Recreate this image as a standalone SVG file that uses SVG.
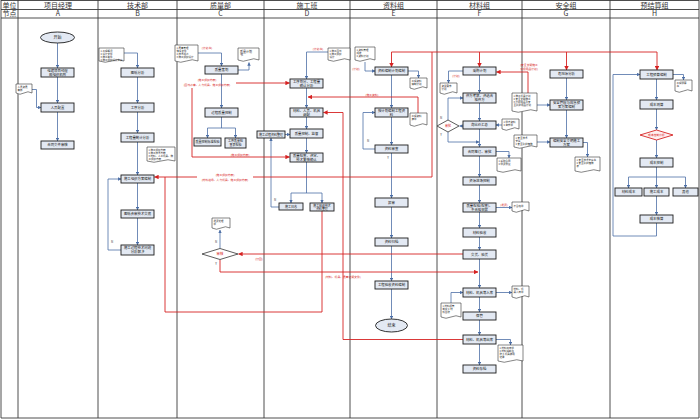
<svg xmlns="http://www.w3.org/2000/svg" width="700" height="419" viewBox="0 0 700 419">
<defs>
<style>
text{font-family:"Noto Sans CJK SC","Noto Sans",sans-serif}
.lane{stroke:#3a3a3a;stroke-width:0.9;fill:none}
.hd{font-size:7px;fill:#333;text-anchor:middle}
.box{fill:#e3e9f3;stroke:#1c1c1c;stroke-width:0.9}
.bt{font-size:3.4px;fill:#111;text-anchor:middle}
.doc{fill:#fff;stroke:#333;stroke-width:0.6}
.dt{font-size:2.5px;fill:#222}
.bl{stroke:#4d6fa6;stroke-width:0.8;fill:none}
.ba{marker-end:url(#ab)}
.rl{stroke:#d62222;stroke-width:0.9;fill:none}
.ra{marker-end:url(#ar)}
.rt{font-size:2.8px;fill:#d62222;text-anchor:middle}
.lb{font-size:3px;fill:#333;text-anchor:middle}
.dia{fill:#fff;stroke:#333;stroke-width:0.8}
</style>
<marker id="ab" viewBox="0 0 6 6" refX="5.5" refY="3" markerWidth="3.5" markerHeight="3.5" orient="auto" markerUnits="userSpaceOnUse"><path d="M0,0 L6,3 L0,6 z" fill="#4d6fa6"/></marker>
<marker id="ar" viewBox="0 0 6 6" refX="5.5" refY="3" markerWidth="4.5" markerHeight="4.5" orient="auto" markerUnits="userSpaceOnUse"><path d="M0,0 L6,3 L0,6 z" fill="#d62222"/></marker>
</defs>
<rect x="0" y="0" width="700" height="419" fill="#fff"/>

<g id="lanes">
<path class="lane" d="M1,0.5 H699 M1,9.5 H699 M1,18 H699 M1,418 H699 M1,0 V418 M18,0 V418 M98,0 V418 M177,0 V418 M264,0 V418 M350,0 V418 M437,0 V418 M522,0 V418 M610,0 V418 M699,0 V418"/>
<text class="hd" x="9.5" y="7.5">单位</text>
<text class="hd" x="9.5" y="16">节点</text>
<text class="hd" x="58" y="7.5">项目经理</text>
<text class="hd" x="137.5" y="7.5">技术部</text>
<text class="hd" x="220.5" y="7.5">质量部</text>
<text class="hd" x="307" y="7.5">施工班</text>
<text class="hd" x="393.5" y="7.5">资料组</text>
<text class="hd" x="479.5" y="7.5">材料组</text>
<text class="hd" x="566" y="7.5">安全组</text>
<text class="hd" x="654.5" y="7.5">预结算组</text>
<text class="hd" x="58" y="16">A</text>
<text class="hd" x="137.5" y="16">B</text>
<text class="hd" x="220.5" y="16">C</text>
<text class="hd" x="307" y="16">D</text>
<text class="hd" x="393.5" y="16">E</text>
<text class="hd" x="479.5" y="16">F</text>
<text class="hd" x="566" y="16">G</text>
<text class="hd" x="654.5" y="16">H</text>
</g>

<g id="connectors">
<path class="bl ba" d="M57.5,43 V68"/>
<path class="bl ba" d="M57.5,77 V103"/>
<path class="bl ba" d="M57.5,112 V141"/>
<path class="bl ba" d="M32,89.5 H36.5 V107.5 H41"/>
<path class="bl ba" d="M124,53 H137.5 V68"/>
<path class="bl ba" d="M137.5,77 V103"/>
<path class="bl ba" d="M137.5,112 V133"/>
<path class="bl ba" d="M137.5,142 V175"/>
<path class="bl ba" d="M137.5,183 V210"/>
<path class="bl ba" d="M137.5,218 V245"/>
<path class="bl ba" d="M121,250 H108 V179 H121"/>
<path class="bl ba" d="M198,53 H221.5 V66"/>
<path class="bl ba" d="M238,70 H249 V62.5"/>
<path class="bl ba" d="M221.5,74 V108"/>
<path class="bl" d="M221.5,117 V128 M207.5,128 H235.5"/>
<path class="bl ba" d="M207.5,128 V138"/>
<path class="bl ba" d="M235.5,128 V138"/>
<path class="bl ba" d="M220,248.5 V230"/>
<path class="bl ba" d="M328,52 H306.5 V79"/>
<path class="bl ba" d="M306.5,88 V108"/>
<path class="bl ba" d="M306.5,117 V129"/>
<path class="bl ba" d="M285,134.5 H290"/>
<path class="bl ba" d="M306.5,138 V153"/>
<path class="bl" d="M306.5,162 V193 M291,193 H322"/>
<path class="bl ba" d="M291,193 V203"/>
<path class="bl ba" d="M322,193 V203"/>
<path class="bl ba" d="M279,207 H271 V138"/>
<path class="bl ba" d="M365,62 V71 H375"/>
<path class="bl ba" d="M408,71 H418.5 V78"/>
<path class="bl ba" d="M391.5,75 V108"/>
<path class="bl ba" d="M391.5,117 V145"/>
<path class="bl ba" d="M375,149 H363 V112.5 H375"/>
<path class="bl ba" d="M391.5,153 V198"/>
<path class="bl ba" d="M391.5,207 V238"/>
<path class="bl ba" d="M391.5,246 V281"/>
<path class="bl ba" d="M391.5,289 V319"/>
<path class="bl ba" d="M463,71 H448.5 V83"/>
<path class="bl ba" d="M479.5,75 V93"/>
<path class="bl ba" d="M479.5,103 V121"/>
<path class="bl ba" d="M463,126 H459.5"/>
<path class="bl ba" d="M448,120 V98 H463"/>
<path class="bl ba" d="M448,132 V142 H479"/>
<path class="bl ba" d="M479.5,129 V147"/>
<path class="bl ba" d="M502,125 H496"/>
<path class="bl ba" d="M496,151.5 H509 V158"/>
<path class="bl ba" d="M479.5,156 V177"/>
<path class="bl ba" d="M479.5,185 V203"/>
<path class="bl ba" d="M496,207.5 H512"/>
<path class="bl ba" d="M479.5,212 V228"/>
<path class="bl ba" d="M479.5,237 V250"/>
<path class="bl ba" d="M479.5,259 V288"/>
<path class="bl ba" d="M496,292.5 H512"/>
<path class="bl ba" d="M451,303 V292.5 H463"/>
<path class="bl ba" d="M479.5,297 V312"/>
<path class="bl ba" d="M479.5,320 V335"/>
<path class="bl ba" d="M496,339.5 H510.5 V345"/>
<path class="bl ba" d="M479.5,344 V365"/>
<path class="bl ba" d="M566.5,78 V100"/>
<path class="bl ba" d="M566.5,110 V138"/>
<path class="bl ba" d="M537,105 H550"/>
<path class="bl ba" d="M537,142 H550"/>
<path class="bl ba" d="M583,142.5 H587.5 V157"/>
<path class="bl ba" d="M673,74.5 H683.5 V80"/>
<path class="bl ba" d="M656.5,79 V100"/>
<path class="bl ba" d="M656.5,109 V130"/>
<path class="bl ba" d="M656.5,140 V158"/>
<path class="bl" d="M656.5,167 V177 M628.5,177 H685.5"/>
<path class="bl ba" d="M628.5,177 V188"/>
<path class="bl ba" d="M656.5,177 V188"/>
<path class="bl ba" d="M685.5,177 V188"/>
<path class="bl ba" d="M656.5,196 V215"/>
<path class="bl ba" d="M656.5,223 V236 H613 V74.5 H640"/>

<path class="rl" d="M391.5,52 H657"/>
<path class="rl ra" d="M391.5,52 V67"/>
<path class="rl ra" d="M479.5,52 V67"/>
<path class="rl ra" d="M566.5,52 V70"/>
<path class="rl ra" d="M657,52 V70"/>
<path class="rl" d="M432,52 V177 H253"/>
<path class="rl ra" d="M197,177 H154.5"/>
<path class="rl" d="M165,177 V312 H322 V211"/>
<path class="rl ra" d="M192,88 V157 H289.5"/>
<path class="rl ra" d="M236,83 H289.5"/>
<path class="rl ra" d="M418,113 V97 H308"/>
<path class="rl ra" d="M463,339.5 H343 V112.5 H323.5"/>
<path class="rl ra" d="M463,254 H238.5"/>
<path class="rl ra" d="M220,259.5 V272 H478"/>
<path class="rl ra" d="M528,93 V72 H496.5"/>

<text class="rt" x="225" y="175.6">(施工组织方案)</text>
<text class="rt" x="225" y="180.6">(材料进场、人力机具、施工组织方案)</text>
<text class="rt" x="207" y="80.6">(施工组织方案)</text>
<text class="rt" x="207" y="85.6">(图纸会审、人力机具、施工组织方案)</text>
<text class="rt" x="240" y="155.5">(施工组织方案)</text>
<text class="rt" x="372" y="95.8">(施工资料)</text>
<text class="rt" x="259" y="259.5">(打回)</text>
<text class="rt" x="343" y="277.5">(材料、机具、质量证明文件)</text>
<text class="rt" x="207" y="48.5">(计划书)</text>
<text class="rt" x="318" y="49.5">(计划书)</text>
<text class="rt" x="356" y="69.5">(计划)</text>
<text class="rt" x="456" y="77">(计划)</text>
<text class="rt" x="504" y="205.5">(退货)</text>
<text class="rt" x="529" y="66">(安全文明施工</text>
<text class="rt" x="529" y="69.8">劳保用品计划)</text>
<text class="lb" x="112" y="243">N</text>
<text class="lb" x="216" y="243">N</text>
<text class="lb" x="216" y="265">Y</text>
<text class="lb" x="275" y="201">N</text>
<text class="lb" x="368" y="142">N</text>
<text class="lb" x="388" y="159">Y</text>
<text class="lb" x="441" y="119">N</text>
<text class="lb" x="441" y="136">Y</text>
</g>

<g id="a-start"><ellipse class="box" cx="57.5" cy="37.5" rx="17" ry="5.5"/><text class="bt" x="57.5" y="39" style="font-size:4px">开始</text></g>
<g id="a1"><rect class="box" x="41" y="68" width="33" height="9"/><text class="bt" x="57.5" y="71.9">组建项目经理</text><text class="bt" x="57.5" y="75.5">部组织机构</text></g>
<g id="a2"><rect class="box" x="41" y="103" width="33" height="9"/><text class="bt" x="57.5" y="108.7">人员配置</text></g>
<g id="a3"><rect class="box" x="41" y="141" width="33" height="8"/><text class="bt" x="57.5" y="146.2">合同文件审核</text></g>
<g id="a-doc"><path class="doc" d="M16,84 h16 v9 q-4,-2.5 -8,0 t-8,0 z"/><text class="dt" x="17.5" y="87.5">人员资质</text><text class="dt" x="17.5" y="90.5">审核</text></g>

<g id="b-doc"><path class="doc" d="M99,48 h25 v13 q-6.25,-2.5 -12.5,0 t-12.5,0 z"/><text class="dt" x="100.5" y="51.5">1.工程概况</text><text class="dt" x="100.5" y="54.5">2.设计文件</text><text class="dt" x="100.5" y="57.5">3.施工条件</text><text class="dt" x="100.5" y="60.5">4.施工组织设计交底</text></g>
<g id="b1"><rect class="box" x="121" y="68" width="33" height="9"/><text class="bt" x="137.5" y="73.7">图纸分析</text></g>
<g id="b2"><rect class="box" x="121" y="103" width="33" height="9"/><text class="bt" x="137.5" y="108.7">工序分析</text></g>
<g id="b3"><rect class="box" x="121" y="133" width="33" height="9"/><text class="bt" x="137.5" y="138.7">工程量统计分析</text></g>
<g id="b-doc2"><path class="doc" d="M147,147 h28 v14 q-7,-2.5 -14,0 t-14,0 z"/><text class="dt" x="148.5" y="150.5">1.施工组织方案</text><text class="dt" x="148.5" y="153.5">2.施工技术方案</text><text class="dt" x="148.5" y="156.5">3.材料、人工机具、施</text><text class="dt" x="148.5" y="159.5">工组织方案</text></g>
<g id="b4"><rect class="box" x="121" y="175" width="33" height="8"/><text class="bt" x="137.5" y="180.2">施工组织方案编制</text></g>
<g id="b5"><rect class="box" x="121" y="210" width="33" height="8"/><text class="bt" x="137.5" y="215.2">图纸会审技术交底</text></g>
<g id="b6"><rect class="box" x="121" y="245" width="33" height="10"/><text class="bt" x="137.5" y="249.3">施工过程技术问题</text><text class="bt" x="137.5" y="253">分析解决</text></g>

<g id="c-doc1"><path class="doc" d="M175,45 h23 v16 q-5.75,-2.5 -11.5,0 t-11.5,0 z"/><text class="dt" x="176.5" y="48.5">1.质量管理</text><text class="dt" x="176.5" y="51.5">体系文件</text><text class="dt" x="176.5" y="54.5">2.技术规范</text><text class="dt" x="176.5" y="57.5">3.施工组织设计</text></g>
<g id="c-doc2"><path class="doc" d="M238,48 h21 v12 q-5.25,-2.5 -10.5,0 t-10.5,0 z"/><text class="dt" x="240" y="52.5" style="font-size:3px">质量计划</text><text class="dt" x="240" y="56" style="font-size:3px">书</text></g>
<g id="c1"><rect class="box" x="205" y="66" width="33" height="8"/><text class="bt" x="221.5" y="71.2">质量策划</text></g>
<g id="c2"><rect class="box" x="205" y="108" width="33" height="9"/><text class="bt" x="221.5" y="113.7">过程质量控制</text></g>
<g id="c3"><rect class="box" x="194" y="138" width="27" height="8"/><text class="bt" x="207.5" y="143" style="font-size:3px">质量控制标准检验</text></g>
<g id="c4"><rect class="box" x="225" y="138" width="21" height="10"/><text class="bt" x="235.5" y="142.3" style="font-size:3px">工序质量检</text><text class="bt" x="235.5" y="146" style="font-size:3px">查表检验</text></g>
<g id="c-dia"><path class="dia" d="M202,254 L220,248.5 L238,254 L220,259.5 z"/><text class="bt" x="220" y="255.3" style="fill:#d62222">审核</text></g>
<g id="c-doc3"><path class="doc" d="M212,218 h18 v10 q-4.5,-2.5 -9,0 t-9,0 z"/><text class="dt" x="213.5" y="221.5">退货处理</text><text class="dt" x="213.5" y="224.5">单</text></g>

<g id="d-doc"><path class="doc" d="M328,48 h22 v12 q-5.5,-2.5 -11,0 t-11,0 z"/><text class="dt" x="329.5" y="51.5">1.施工图纸</text><text class="dt" x="329.5" y="54.5">2.施工组织</text><text class="dt" x="329.5" y="57.5">设计</text></g>
<g id="d1"><rect class="box" x="290" y="79" width="33" height="9"/><text class="bt" x="306.5" y="82.9">工序划分、工程量</text><text class="bt" x="306.5" y="86.5">确认分析</text></g>
<g id="d2"><rect class="box" x="290" y="108" width="33" height="9"/><text class="bt" x="306.5" y="111.9">材料、人员、机具</text><text class="bt" x="306.5" y="115.5">调配</text></g>
<g id="d3"><rect class="box" x="290" y="129" width="33" height="9"/><text class="bt" x="306.5" y="134.7">质量控制、监督</text></g>
<g id="d-left"><rect class="box" x="257" y="131" width="28" height="7"/><text class="bt" x="271" y="135.6" style="font-size:3px">施工过程资料整理</text></g>
<g id="d4"><rect class="box" x="290" y="153" width="33" height="9"/><text class="bt" x="306.5" y="156.9">质量检查、评定、</text><text class="bt" x="306.5" y="160.5">技术复核确认</text></g>
<g id="d5"><rect class="box" x="279" y="203" width="24" height="7"/><text class="bt" x="291" y="207.6" style="font-size:3px">施工日志</text></g>
<g id="d6"><rect class="box" x="310" y="203" width="24" height="8"/><text class="bt" x="322" y="206.5" style="font-size:2.9px">施工班组技术</text><text class="bt" x="322" y="209.8" style="font-size:2.9px">资料整理</text></g>

<g id="e-doc1"><path class="doc" d="M355,47 h20 v13 q-5,-2.5 -10,0 t-10,0 z"/><text class="dt" x="356.5" y="50.5">1.资料管理</text><text class="dt" x="356.5" y="53.5">规定</text><text class="dt" x="356.5" y="56.5">2.资料计划</text></g>
<g id="e1"><rect class="box" x="375" y="67" width="33" height="8"/><text class="bt" x="391.5" y="72.2">资料编制计划编制</text></g>
<g id="e-doc2"><path class="doc" d="M410,78 h17 v10 q-4.25,-2.5 -8.5,0 t-8.5,0 z"/><text class="dt" x="411.5" y="81.5">工程资料</text><text class="dt" x="411.5" y="84.5">编制计划</text></g>
<g id="e2"><rect class="box" x="375" y="108" width="33" height="9"/><text class="bt" x="391.5" y="111.9">按计划编制工程资</text><text class="bt" x="391.5" y="115.5">料</text></g>
<g id="e-doc3"><path class="doc" d="M410,113 h17 v12 q-4.25,-2.5 -8.5,0 t-8.5,0 z"/><text class="dt" x="411.5" y="117">工程资料</text><text class="dt" x="411.5" y="120">清单</text></g>
<g id="e3"><rect class="box" x="375" y="145" width="33" height="8"/><text class="bt" x="391.5" y="150.2">资料审查</text></g>
<g id="e4"><rect class="box" x="375" y="198" width="33" height="9"/><text class="bt" x="391.5" y="203.7">报审</text></g>
<g id="e5"><rect class="box" x="375" y="238" width="33" height="8"/><text class="bt" x="391.5" y="243.2">资料归档</text></g>
<g id="e6"><rect class="box" x="375" y="281" width="33" height="8"/><text class="bt" x="391.5" y="286.2">工程验收资料编制</text></g>
<g id="e-end"><ellipse class="box" cx="391.5" cy="325.5" rx="16" ry="6.5"/><text class="bt" x="391.5" y="327" style="font-size:4px">结束</text></g>

<g id="f1"><rect class="box" x="463" y="67" width="33" height="8"/><text class="bt" x="479.5" y="72.2">采购计划</text></g>
<g id="f-doc1"><path class="doc" d="M440,83 h17 v10 q-4.25,-2.5 -8.5,0 t-8.5,0 z"/><text class="dt" x="441.5" y="86.5">资金需求</text><text class="dt" x="441.5" y="89.5">计划</text></g>
<g id="f2"><rect class="box" x="463" y="93" width="33" height="10"/><text class="bt" x="479.5" y="97.3">供方考察、评选合</text><text class="bt" x="479.5" y="101">格供方</text></g>
<g id="f3"><rect class="box" x="463" y="121" width="33" height="8"/><text class="bt" x="479.5" y="126.2">询比价汇总</text></g>
<g id="f-dia"><path class="dia" d="M437,126 L448,120 L459,126 L448,132 z"/><text class="bt" x="448" y="127.2" style="fill:#d62222;font-size:3px">审批</text></g>
<g id="f-doc2"><path class="doc" d="M502,119 h17 v10 q-4.25,-2.5 -8.5,0 t-8.5,0 z"/><text class="dt" x="503.5" y="122.5">1.供方资料</text><text class="dt" x="503.5" y="125.5">2.询价单</text></g>
<g id="f4"><rect class="box" x="463" y="147" width="33" height="9"/><text class="bt" x="479.5" y="152.7">合同签订、审批</text></g>
<g id="f-doc3"><path class="doc" d="M497,158 h24 v13 q-6,-2.5 -12,0 t-12,0 z"/><text class="dt" x="498.5" y="161.5">1.采购合同</text><text class="dt" x="498.5" y="164.5">2.供货协议</text></g>
<g id="f5"><rect class="box" x="463" y="177" width="33" height="8"/><text class="bt" x="479.5" y="182.2">资源进场控制</text></g>
<g id="f6"><rect class="box" x="463" y="203" width="33" height="9"/><text class="bt" x="479.5" y="206.9">质量检验(检查)、</text><text class="bt" x="479.5" y="210.5">不合格申报</text></g>
<g id="f-doc4"><path class="doc" d="M512,202 h17 v9 q-4.25,-2.5 -8.5,0 t-8.5,0 z"/><text class="dt" x="513.5" y="206.5">不合格单</text></g>
<g id="f7"><rect class="box" x="463" y="228" width="33" height="9"/><text class="bt" x="479.5" y="233.7">材料验收</text></g>
<g id="f8"><rect class="box" x="463" y="250" width="33" height="9"/><text class="bt" x="479.5" y="255.7">交货、验货</text></g>
<g id="f9"><rect class="box" x="463" y="288" width="33" height="9"/><text class="bt" x="479.5" y="293.7">材料、机具等入库</text></g>
<g id="f-doc5"><path class="doc" d="M512,286 h17 v11 q-4.25,-2.5 -8.5,0 t-8.5,0 z"/><text class="dt" x="513.5" y="289.5">材料、机</text><text class="dt" x="513.5" y="292.5">具入库单</text></g>
<g id="f-doc6"><path class="doc" d="M441,303 h20 v14 q-5,-2.5 -10,0 t-10,0 z"/><text class="dt" x="442.5" y="306.5">1.材料保管</text><text class="dt" x="442.5" y="309.5">制度 2.材</text><text class="dt" x="442.5" y="312.5">料台账</text></g>
<g id="f10"><rect class="box" x="463" y="312" width="33" height="8"/><text class="bt" x="479.5" y="317.2">保管</text></g>
<g id="f11"><rect class="box" x="463" y="335" width="33" height="9"/><text class="bt" x="479.5" y="340.7">材料、机具等出库</text></g>
<g id="f-doc7"><path class="doc" d="M498,345 h25 v16 q-6.25,-2.5 -12.5,0 t-12.5,0 z"/><text class="dt" x="499.5" y="348.5">1.材料出库单</text><text class="dt" x="499.5" y="351.5">2.材料消耗台</text><text class="dt" x="499.5" y="354.5">账 3.机具使用</text><text class="dt" x="499.5" y="357.5">记录</text></g>
<g id="f12"><rect class="box" x="463" y="365" width="33" height="8"/><text class="bt" x="479.5" y="370.2">资料存档</text></g>

<g id="g1"><rect class="box" x="550" y="70" width="33" height="8"/><text class="bt" x="566.5" y="75.2">危险源分析</text></g>
<g id="g-doc1"><path class="doc" d="M512,93 h25 v18 q-6.25,-2.5 -12.5,0 t-12.5,0 z"/><text class="dt" x="513.5" y="96.5">1.施工机具计划</text><text class="dt" x="513.5" y="99.5">2.安全文明施工</text><text class="dt" x="513.5" y="102.5">3.劳保用品及安</text><text class="dt" x="513.5" y="105.5">全防护用品计划</text></g>
<g id="g2"><rect class="box" x="550" y="100" width="33" height="10"/><text class="bt" x="566.5" y="104.3">安全管理与应急预</text><text class="bt" x="566.5" y="108">案方案编制</text></g>
<g id="g-doc2"><path class="doc" d="M514,135 h23 v12 q-5.75,-2.5 -11.5,0 t-11.5,0 z"/><text class="dt" x="515.5" y="138.5">1.安全技术</text><text class="dt" x="515.5" y="141.5">交底</text><text class="dt" x="515.5" y="144.5">2.安全防护措施</text></g>
<g id="g3"><rect class="box" x="550" y="138" width="33" height="9"/><text class="bt" x="566.5" y="141.9">编制安全文明施工</text><text class="bt" x="566.5" y="145.5">方案</text></g>
<g id="g-doc3"><path class="doc" d="M575,157 h25 v14 q-6.25,-2.5 -12.5,0 t-12.5,0 z"/><text class="dt" x="576.5" y="160.5">1.安全技术交底书</text><text class="dt" x="576.5" y="163.5">2.安全防护措施</text><text class="dt" x="576.5" y="166.5">表</text></g>

<g id="h1"><rect class="box" x="640" y="70" width="33" height="9"/><text class="bt" x="656.5" y="75.7">工程预算编制</text></g>
<g id="h-doc"><path class="doc" d="M675,80 h17 v11 q-4.25,-2.5 -8.5,0 t-8.5,0 z"/><text class="dt" x="676.5" y="83.5">工程预算</text><text class="dt" x="676.5" y="86.5">书</text></g>
<g id="h2"><rect class="box" x="640" y="100" width="33" height="9"/><text class="bt" x="656.5" y="105.7">成本测算</text></g>
<g id="h-dia"><path d="M640,135 L656.5,130 L673,135 L656.5,140 z" fill="#fff0f0" stroke="#d62222" stroke-width="0.9"/><text class="bt" x="656.5" y="136.1" style="fill:#d62222;font-size:2.8px">成本控制分析</text></g>
<g id="h3"><rect class="box" x="640" y="158" width="33" height="9"/><text class="bt" x="656.5" y="163.7">成本控制</text></g>
<g id="h4"><rect class="box" x="615" y="188" width="27" height="8"/><text class="bt" x="628.5" y="193.2">材料成本</text></g>
<g id="h5"><rect class="box" x="644" y="188" width="25" height="8"/><text class="bt" x="656.5" y="193.2">施工成本</text></g>
<g id="h6"><rect class="box" x="673" y="188" width="25" height="8"/><text class="bt" x="685.5" y="193.2">其他</text></g>
<g id="h7"><rect class="box" x="640" y="215" width="33" height="8"/><text class="bt" x="656.5" y="220.2">成本核算</text></g>
</svg>
